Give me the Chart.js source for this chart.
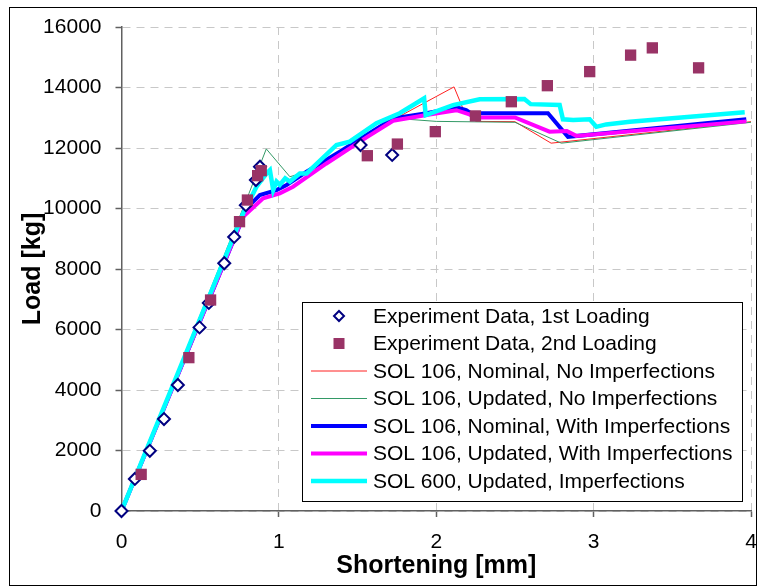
<!DOCTYPE html>
<html>
<head>
<meta charset="utf-8">
<script src="https://cdn.jsdelivr.net/npm/chart.js@4.4.0/dist/chart.umd.min.js"></script>
<style>
  html, body { margin: 0; padding: 0; background: #fff; }
</style>
</head>
<body>
<canvas id="myChart" width="759" height="588"></canvas>
<script>
// legend names, same order as in the picture
const seriesNames = [
  'Experiment Data, 1st Loading',
  'Experiment Data, 2nd Loading',
  'SOL 106, Nominal, No Imperfections',
  'SOL 106, Updated, No Imperfections',
  'SOL 106, Nominal, With Imperfections',
  'SOL 106, Updated, With Imperfections',
  'SOL 600, Updated, Imperfections'
];

// axis ticks
const xTicks = [0, 1, 2, 3, 4];
const yTicks = [0, 2000, 4000, 6000, 8000, 10000, 12000, 14000, 16000];

// experiment, 1st loading (diamonds)
const exp1X = [0, 0.085, 0.18, 0.27, 0.358, 0.496, 0.555, 0.653, 0.716, 0.79, 0.854, 0.88, 1.519, 1.72];
const exp1Y = [0, 1060, 1990, 3040, 4165, 6070, 6880, 8190, 9060, 10110, 10940, 11380, 12100, 11770];

// experiment, 2nd loading (squares)
const exp2X = [0.125, 0.428, 0.566, 0.75, 0.80, 0.865, 0.888, 1.562, 1.753, 1.994, 2.249, 2.477, 2.706, 2.975, 3.235, 3.373, 3.667];
const exp2Y = [1210, 5070, 6975, 9565, 10280, 11085, 11250, 11745, 12130, 12540, 13060, 13530, 14060, 14525, 15070, 15310, 14650];

// SOL 106 nominal, no imperfections
const nomNoImpX = [0, 0.78, 0.805, 0.879, 0.985, 1.049, 1.176, 1.387, 1.557, 1.75, 2.113, 2.17, 2.25, 2.5, 2.73, 4.0];
const nomNoImpY = [0, 9800, 10060, 10446, 10610, 10776, 11215, 11880, 12430, 13000, 14020, 13300, 12880, 12870, 12160, 12870];

// SOL 106 updated, no imperfections
const updNoImpX = [0, 0.81, 0.92, 1.07, 1.176, 1.387, 1.557, 1.715, 2.0, 2.5, 2.795, 4.0];
const updNoImpY = [0, 10500, 11970, 11050, 11215, 11880, 12430, 12990, 12880, 12850, 12160, 12850];

// SOL 106 nominal, with imperfections
const nomImpX = [0, 0.78, 0.805, 0.879, 0.985, 1.049, 1.176, 1.387, 1.557, 1.726, 1.938, 2.128, 2.19, 2.22, 2.71, 2.837, 3.97];
const nomImpY = [0, 9800, 10060, 10446, 10610, 10776, 11215, 11880, 12430, 12980, 13150, 13345, 13255, 13150, 13150, 12370, 12950];

// SOL 106 updated, with imperfections
const updImpX = [0, 0.773, 0.90, 1.006, 1.09, 1.3, 1.557, 1.726, 1.938, 2.128, 2.21, 2.25, 2.5, 2.72, 2.83, 2.89, 3.97];
const updImpY = [0, 9730, 10340, 10500, 10720, 11480, 12350, 12900, 13090, 13250, 13110, 13010, 13010, 12540, 12560, 12400, 12880];

// SOL 600 updated, imperfections
const sol600X = [0, 0.773, 0.858, 0.922, 0.943, 0.964, 0.985, 1.006, 1.04, 1.07, 1.133, 1.176, 1.366, 1.45, 1.62, 1.768, 1.923, 1.933, 2.107, 2.276, 2.56, 2.6, 2.784, 2.805, 2.87, 2.975, 3.017, 3.08, 3.23, 3.96];
const sol600Y = [0, 9840, 10720, 11160, 11270, 10610, 10890, 10780, 11000, 10890, 11160, 11160, 12100, 12210, 12820, 13150, 13640, 13090, 13420, 13610, 13620, 13450, 13420, 12950, 12925, 12950, 12700, 12780, 12870, 13180];

function pts(xs, ys) {
  return xs.map((x, i) => ({ x: x, y: ys[i] }));
}

const FONT = "'Liberation Sans', Arial, sans-serif";

// white background + outer frame
const frame = {
  id: 'frame',
  beforeDraw(chart) {
    const c = chart.ctx;
    c.save();
    c.fillStyle = '#fff';
    c.fillRect(0, 0, chart.width, chart.height);
    c.restore();
  },
  afterDraw(chart) {
    const c = chart.ctx;
    c.save();
    c.strokeStyle = '#000';
    c.lineWidth = 1;
    c.strokeRect(9.5, 7.5, 747, 578);
    c.restore();
  }
};

// legend box inside the plot, like the excel one
const boxLegend = {
  id: 'boxLegend',
  afterDraw(chart) {
    const c = chart.ctx;
    const ds = chart.data.datasets;
    const bx = 302, by = 302, bw = 440, bh = 199;
    c.save();
    c.fillStyle = '#fff';
    c.fillRect(bx, by, bw, bh);
    c.strokeStyle = '#000';
    c.lineWidth = 1;
    c.strokeRect(bx + 0.5, by + 0.5, bw, bh);

    c.font = '21px ' + FONT;
    c.textBaseline = 'middle';
    c.textAlign = 'left';
    seriesNames.forEach((name, i) => {
      const d = ds[i];
      const y = 316 + i * 27.5;
      if (d.showLine) {
        c.strokeStyle = d.borderColor;
        c.lineWidth = d.borderWidth;
        c.beginPath();
        c.moveTo(311, y);
        c.lineTo(367, y);
        c.stroke();
      } else if (d.pointStyle === 'rectRot') {
        c.fillStyle = d.pointBackgroundColor;
        c.strokeStyle = d.pointBorderColor;
        c.lineWidth = d.pointBorderWidth;
        c.beginPath();
        c.moveTo(339, y - 5);
        c.lineTo(344, y);
        c.lineTo(339, y + 5);
        c.lineTo(334, y);
        c.closePath();
        c.fill();
        c.stroke();
      } else {
        c.fillStyle = d.pointBackgroundColor;
        c.fillRect(333.5, y - 5.5, 11, 11);
      }
      c.fillStyle = '#000';
      c.fillText(name, 373, y + 1);
    });
    c.restore();
  }
};

const ctx = document.getElementById('myChart').getContext('2d');

const myChart = new Chart(ctx, {
  type: 'scatter',
  data: {
    datasets: [
      {
        label: seriesNames[0],
        data: pts(exp1X, exp1Y),
        pointStyle: 'rectRot',
        pointRadius: 6,
        pointHoverRadius: 6,
        pointBackgroundColor: '#fff',
        pointBorderColor: '#000080',
        pointBorderWidth: 2,
        clip: false,
        order: 1
      },
      {
        label: seriesNames[1],
        data: pts(exp2X, exp2Y),
        pointStyle: 'rect',
        pointRadius: 8,
        pointHoverRadius: 8,
        pointBackgroundColor: '#993366',
        pointBorderColor: '#993366',
        pointBorderWidth: 0,
        clip: false,
        order: 0
      },
      {
        label: seriesNames[2],
        data: pts(nomNoImpX, nomNoImpY),
        showLine: true,
        borderColor: '#ff2020',
        borderWidth: 1,
        pointRadius: 0,
        order: 6
      },
      {
        label: seriesNames[3],
        data: pts(updNoImpX, updNoImpY),
        showLine: true,
        borderColor: '#339966',
        borderWidth: 1,
        pointRadius: 0,
        order: 5
      },
      {
        label: seriesNames[4],
        data: pts(nomImpX, nomImpY),
        showLine: true,
        borderColor: '#0000ff',
        borderWidth: 4,
        pointRadius: 0,
        order: 4
      },
      {
        label: seriesNames[5],
        data: pts(updImpX, updImpY),
        showLine: true,
        borderColor: '#ff00ff',
        borderWidth: 4,
        pointRadius: 0,
        order: 3
      },
      {
        label: seriesNames[6],
        data: pts(sol600X, sol600Y),
        showLine: true,
        borderColor: '#00ffff',
        borderWidth: 4.5,
        pointRadius: 0,
        order: 2
      }
    ]
  },
  options: {
    responsive: false,
    animation: false,
    devicePixelRatio: 1,
    layout: { padding: { left: 10, right: 8, top: 27, bottom: 3 } },
    plugins: {
      legend: { display: false },
      tooltip: { enabled: false }
    },
    scales: {
      x: {
        type: 'linear',
        min: 0,
        max: 4,
        afterFit: (s) => { s.height = 74; },
        afterBuildTicks: (s) => { s.ticks = xTicks.map(v => ({ value: v })); },
        ticks: {
          color: '#000',
          // tall line height pushes the labels down without widening the side padding
          font: { family: FONT, size: 21, lineHeight: 2.2 },
          padding: 2,
          callback: (v) => String(v)
        },
        grid: {
          color: '#c8c8c8',
          lineWidth: 1,
          tickLength: 6,
          tickColor: '#606060',
          tickWidth: 1.5
        },
        border: { color: '#606060', width: 1.5, dash: [8, 6] },
        title: {
          display: true,
          text: 'Shortening [mm]',
          color: '#000',
          font: { family: FONT, size: 25, weight: 'bold' },
          padding: { top: 0, bottom: 4 }
        }
      },
      y: {
        type: 'linear',
        min: 0,
        max: 16000,
        afterFit: (s) => { s.width = 111.5; },
        afterBuildTicks: (s) => { s.ticks = yTicks.map(v => ({ value: v })); },
        ticks: {
          color: '#000',
          font: { family: FONT, size: 21 },
          padding: 14,
          callback: (v) => String(v)
        },
        grid: {
          color: '#c8c8c8',
          lineWidth: 1,
          tickLength: 6,
          tickColor: '#606060',
          tickWidth: 1.5
        },
        border: { color: '#606060', width: 1.5, dash: [8, 6] },
        title: {
          display: true,
          text: 'Load [kg]',
          color: '#000',
          font: { family: FONT, size: 25, weight: 'bold' },
          padding: { top: 8, bottom: 0 }
        }
      }
    }
  },
  plugins: [frame, boxLegend]
});
</script>
</body>
</html>
